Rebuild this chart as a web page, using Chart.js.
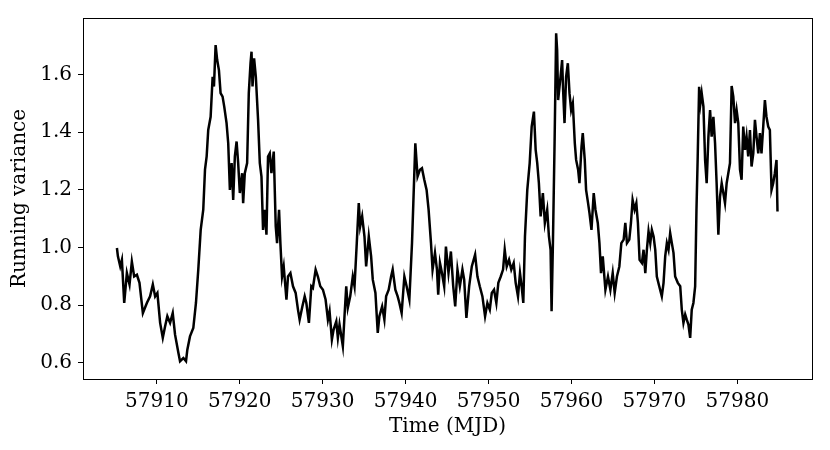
<!DOCTYPE html>
<html>
<head>
<meta charset="utf-8">
<title>Running variance</title>
<script src="https://cdn.jsdelivr.net/npm/chart.js@4/dist/chart.umd.min.js"></script>
<style>
    html, body { margin: 0; padding: 0; background: #ffffff; }
    #wrap { width: 830px; height: 450px; }
</style>
</head>
<body>
<div id="wrap"><canvas id="chartVariance" width="830" height="450"></canvas></div>
<script>
// Time (MJD)
var temps = [
    57905.19, 57905.31, 57905.59, 57905.79, 57906.07, 57906.39, 57906.71, 57906.99, 57907.27, 57907.60,
    57907.91, 57908.32, 57908.80, 57909.19, 57909.52, 57909.80, 57910.07, 57910.40, 57910.72, 57911.00,
    57911.27, 57911.60, 57911.92, 57912.20, 57912.60, 57912.80, 57913.20, 57913.52, 57913.68, 57914.00,
    57914.40, 57914.72, 57915.00, 57915.29, 57915.60, 57915.81, 57916.01, 57916.20, 57916.49, 57916.73,
    57916.89, 57917.09, 57917.28, 57917.49, 57917.69, 57917.93, 57918.13, 57918.41, 57918.61, 57918.81,
    57919.02, 57919.21, 57919.41, 57919.62, 57919.81, 57920.01, 57920.29, 57920.41, 57920.61, 57920.89,
    57921.09, 57921.30, 57921.42, 57921.54, 57921.73, 57921.94, 57922.21, 57922.42, 57922.62, 57922.81,
    57923.02, 57923.22, 57923.41, 57923.62, 57923.82, 57924.10, 57924.34, 57924.50, 57924.74, 57924.90,
    57925.10, 57925.30, 57925.63, 57925.82, 57926.11, 57926.42, 57926.74, 57927.02, 57927.22, 57927.55,
    57927.83, 57928.03, 57928.34, 57928.63, 57928.82, 57929.15, 57929.42, 57929.71, 57930.03, 57930.35,
    57930.63, 57930.83, 57931.11, 57931.31, 57931.64, 57931.83, 57932.03, 57932.43, 57932.63, 57932.84,
    57933.03, 57933.32, 57933.63, 57933.84, 57934.11, 57934.35, 57934.52, 57934.76, 57935.04, 57935.24,
    57935.56, 57935.84, 57936.04, 57936.36, 57936.64, 57936.84, 57937.17, 57937.44, 57937.65, 57937.96,
    57938.25, 57938.44, 57938.76, 57939.04, 57939.25, 57939.52, 57939.85, 57940.12, 57940.45, 57940.77,
    57940.93, 57941.17, 57941.44, 57941.73, 57941.97, 57942.25, 57942.53, 57942.77, 57943.06, 57943.25,
    57943.54, 57943.78, 57943.93, 57944.14, 57944.38, 57944.65, 57944.86, 57945.17, 57945.46, 57945.74,
    57945.98, 57946.25, 57946.54, 57946.85, 57947.06, 57947.33, 57947.66, 57947.98, 57948.38, 57948.66,
    57948.94, 57949.26, 57949.58, 57949.86, 57950.15, 57950.39, 57950.66, 57950.94, 57951.18, 57951.47,
    57951.75, 57951.95, 57952.19, 57952.47, 57952.74, 57953.03, 57953.27, 57953.55, 57953.79, 57953.99,
    57954.19, 57954.39, 57954.67, 57954.96, 57955.20, 57955.47, 57955.68, 57955.87, 57956.07, 57956.28,
    57956.55, 57956.79, 57957.07, 57957.28, 57957.48, 57957.60, 57957.76, 57957.96, 57958.15, 57958.27,
    57958.39, 57958.68, 57958.87, 57958.99, 57959.16, 57959.35, 57959.56, 57959.76, 57959.96, 57960.16,
    57960.40, 57960.56, 57960.80, 57960.96, 57961.21, 57961.36, 57961.60, 57961.76, 57962.00, 57962.17,
    57962.41, 57962.68, 57962.89, 57963.17, 57963.37, 57963.56, 57963.77, 57964.09, 57964.40, 57964.69,
    57964.97, 57965.21, 57965.48, 57965.77, 57966.01, 57966.29, 57966.49, 57966.69, 57966.97, 57967.17,
    57967.37, 57967.61, 57967.82, 57968.01, 57968.21, 57968.49, 57968.69, 57968.90, 57969.09, 57969.29,
    57969.50, 57969.69, 57969.90, 57970.10, 57970.29, 57970.58, 57970.89, 57971.10, 57971.30, 57971.50,
    57971.70, 57971.90, 57972.10, 57972.30, 57972.50, 57972.82, 57973.11, 57973.30, 57973.50, 57973.71,
    57973.90, 57974.10, 57974.31, 57974.50, 57974.70, 57974.91, 57975.07, 57975.22, 57975.39, 57975.55,
    57975.70, 57975.91, 57976.11, 57976.30, 57976.51, 57976.71, 57976.90, 57977.11, 57977.31, 57977.50,
    57977.71, 57977.91, 57978.11, 57978.31, 57978.51, 57978.71, 57978.91, 57979.11, 57979.31, 57979.51,
    57979.72, 57979.91, 57980.11, 57980.32, 57980.51, 57980.71, 57980.92, 57981.11, 57981.31, 57981.52,
    57981.71, 57981.92, 57982.12, 57982.31, 57982.52, 57982.72, 57982.91, 57983.12, 57983.32, 57983.51,
    57983.72, 57983.92, 57984.12, 57984.32, 57984.52, 57984.72, 57984.84
];

// Running variance, same order
var variance = [
    0.998, 0.969, 0.934, 0.957, 0.807, 0.911, 0.871, 0.951, 0.899, 0.905,
    0.877, 0.772, 0.807, 0.830, 0.871, 0.830, 0.842, 0.738, 0.686, 0.726,
    0.761, 0.738, 0.772, 0.697, 0.634, 0.605, 0.616, 0.605, 0.645, 0.691,
    0.720, 0.807, 0.923, 1.061, 1.131, 1.270, 1.316, 1.408, 1.454, 1.593,
    1.559, 1.703, 1.651, 1.616, 1.536, 1.524, 1.489, 1.432, 1.362, 1.200,
    1.293, 1.165, 1.316, 1.368, 1.293, 1.189, 1.258, 1.154, 1.258, 1.293,
    1.536, 1.640, 1.680, 1.559, 1.657, 1.593, 1.443, 1.293, 1.246, 1.061,
    1.131, 1.044, 1.316, 1.327, 1.258, 1.333, 1.073, 1.015, 1.131, 1.015,
    0.899, 0.934, 0.819, 0.899, 0.911, 0.865, 0.842, 0.784, 0.749, 0.795,
    0.830, 0.807, 0.738, 0.865, 0.859, 0.923, 0.899, 0.865, 0.853, 0.819,
    0.749, 0.778, 0.680, 0.714, 0.743, 0.686, 0.732, 0.657, 0.761, 0.865,
    0.790, 0.830, 0.899, 0.865, 1.015, 1.154, 1.073, 1.108, 1.038, 0.934,
    1.038, 0.969, 0.888, 0.842, 0.703, 0.761, 0.795, 0.749, 0.830, 0.853,
    0.899, 0.923, 0.853, 0.830, 0.807, 0.772, 0.899, 0.865, 0.819, 1.015,
    1.154, 1.362, 1.246, 1.270, 1.275, 1.235, 1.200, 1.131, 1.015, 0.923,
    0.981, 0.923, 0.836, 0.946, 0.911, 0.865, 1.003, 0.911, 0.986, 0.865,
    0.795, 0.923, 0.865, 0.923, 0.888, 0.755, 0.865, 0.934, 0.975, 0.899,
    0.865, 0.830, 0.761, 0.807, 0.784, 0.842, 0.853, 0.807, 0.877, 0.899,
    0.923, 0.992, 0.934, 0.957, 0.923, 0.946, 0.877, 0.830, 0.911, 0.865,
    0.807, 1.038, 1.200, 1.293, 1.420, 1.472, 1.339, 1.293, 1.223, 1.108,
    1.189, 1.085, 1.131, 1.038, 0.992, 0.778, 1.015, 1.362, 1.744, 1.686,
    1.512, 1.593, 1.651, 1.547, 1.432, 1.593, 1.640, 1.536, 1.477, 1.501,
    1.362, 1.304, 1.270, 1.223, 1.350, 1.397, 1.304, 1.200, 1.154, 1.119,
    1.061, 1.189, 1.131, 1.085, 1.015, 0.911, 0.969, 0.853, 0.899, 0.853,
    0.911, 0.842, 0.899, 0.934, 1.015, 1.027, 1.085, 1.015, 1.027, 1.085,
    1.165, 1.131, 1.154, 1.085, 0.957, 0.946, 0.992, 0.911, 0.992, 1.056,
    1.015, 1.061, 1.038, 0.992, 0.899, 0.865, 0.830, 0.877, 0.969, 1.015,
    0.992, 1.050, 1.015, 0.981, 0.899, 0.877, 0.865, 0.784, 0.738, 0.767,
    0.749, 0.732, 0.686, 0.784, 0.807, 0.865, 1.131, 1.316, 1.558, 1.501,
    1.536, 1.489, 1.304, 1.223, 1.385, 1.477, 1.385, 1.454, 1.362, 1.223,
    1.044, 1.177, 1.223, 1.189, 1.154, 1.223, 1.258, 1.293, 1.561, 1.524,
    1.432, 1.477, 1.432, 1.270, 1.235, 1.420, 1.339, 1.385, 1.316, 1.408,
    1.281, 1.327, 1.443, 1.385, 1.327, 1.397, 1.327, 1.420, 1.512, 1.454,
    1.420, 1.408, 1.200, 1.223, 1.258, 1.304, 1.125
];

// tick labels
var xTicks = [57910, 57920, 57930, 57940, 57950, 57960, 57970, 57980];
var yTicks = [0.6, 0.8, 1.0, 1.2, 1.4, 1.6];

var points = [];
for (i = 0; i < temps.length; i++) {
    points.push({x: temps[i], y: variance[i]});
}

// matplotlib style box around the plot
var cadre = {
    id: 'cadre',
    afterDraw: function (chart) {
        var a = chart.chartArea;
        var ctx = chart.ctx;
        ctx.save();
        ctx.strokeStyle = '#000000';
        ctx.lineWidth = 1;
        ctx.strokeRect(Math.round(a.left) + 0.5, Math.round(a.top) + 0.5,
            Math.round(a.right - a.left), Math.round(a.bottom - a.top));
        ctx.restore();
    }
};

var police = {family: 'DejaVu Serif', size: 20};

var ctx = document.getElementById('chartVariance').getContext('2d');
var chart = new Chart(ctx, {
    type: 'line',
    data: {
        datasets: [{
            label: 'Running variance',
            data: points,
            borderColor: '#000000',
            borderWidth: 2.5,
            borderJoinStyle: 'miter',
            pointRadius: 0,
            tension: 0,
            fill: false
        }]
    },
    options: {
        responsive: false,
        animation: false,
        events: [],
        layout: {padding: {left: 0, top: 17, right: 18, bottom: 0}},
        plugins: {
            legend: {display: false},
            tooltip: {enabled: false}
        },
        scales: {
            x: {
                type: 'linear',
                min: 57901.1,
                max: 57989.0,
                afterBuildTicks: function (scale) {
                    scale.ticks = xTicks.map(function (v) { return {value: v}; });
                },
                afterFit: function (scale) { scale.height = 71; },
                grid: {display: true, drawOnChartArea: false, drawTicks: true, tickLength: 5, color: '#000000'},
                border: {display: false},
                ticks: {
                    color: '#000000',
                    font: police,
                    padding: 6,
                    maxRotation: 0,
                    autoSkip: false,
                    callback: function (v) { return String(v); }
                },
                title: {display: true, text: 'Time (MJD)', color: '#000000', font: police, padding: {top: 0, bottom: 11}}
            },
            y: {
                type: 'linear',
                min: 0.543,
                max: 1.797,
                afterBuildTicks: function (scale) {
                    scale.ticks = yTicks.map(function (v) { return {value: v}; });
                },
                afterFit: function (scale) { scale.width = 83; },
                grid: {display: true, drawOnChartArea: false, drawTicks: true, tickLength: 5, color: '#000000'},
                border: {display: false},
                ticks: {
                    color: '#000000',
                    font: police,
                    padding: 6,
                    autoSkip: false,
                    callback: function (v) { return v.toFixed(1); }
                },
                title: {display: true, text: 'Running variance', color: '#000000', font: police, padding: {top: 8, bottom: 0}}
            }
        }
    },
    plugins: [cadre]
});
</script>
</body>
</html>
